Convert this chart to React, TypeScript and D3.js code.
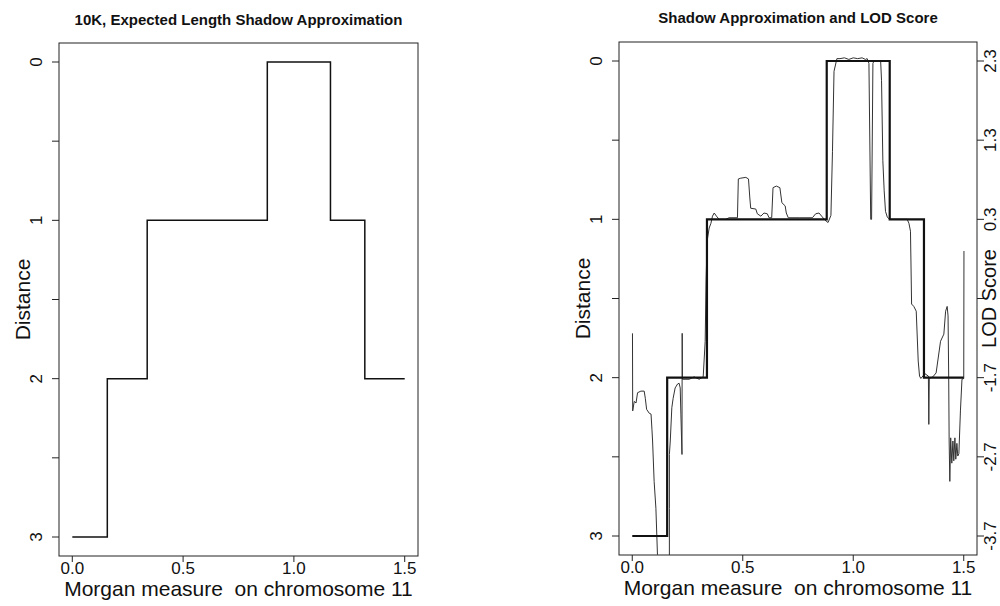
import React, { useEffect, useRef } from 'react';
import * as d3 from 'd3';

// shadow approximation: breakpoints (Morgans) and distance level from each one on
const stepX = [0, 0.158, 0.338, 0.88, 1.165, 1.32, 1.5];
const stepLevel = [3, 2, 1, 0, 1, 2, 2];

// LOD score trace (dips below -3.94 are clipped by the box)
const lodX = [
  0.001, 0.002, 0.009, 0.017, 0.024, 0.039, 0.054, 0.059, 0.065, 0.077, 0.085, 0.089, 0.092, 0.099, 0.107, 0.114,
  0.125, 0.16, 0.168, 0.168, 0.168, 0.172, 0.179, 0.185, 0.194, 0.205, 0.212, 0.217, 0.22, 0.225, 0.226, 0.227,
  0.258, 0.28, 0.303, 0.321, 0.33, 0.334, 0.339, 0.348, 0.356, 0.363, 0.371, 0.381, 0.393, 0.423, 0.438, 0.476,
  0.48, 0.491, 0.514, 0.526, 0.532, 0.536, 0.559, 0.566, 0.582, 0.596, 0.611, 0.619, 0.631, 0.637, 0.652, 0.668,
  0.677, 0.692, 0.697, 0.706, 0.755, 0.815, 0.83, 0.845, 0.857, 0.872, 0.886, 0.899, 0.906, 0.913, 0.926, 0.94,
  0.96, 0.98, 1.0, 1.02, 1.04, 1.055, 1.063, 1.071, 1.079, 1.083, 1.089, 1.094, 1.124, 1.128, 1.134, 1.14,
  1.146, 1.154, 1.164, 1.244, 1.252, 1.259, 1.264, 1.274, 1.285, 1.294, 1.3, 1.306, 1.324, 1.34, 1.342, 1.344,
  1.36, 1.375, 1.395, 1.41, 1.418, 1.425, 1.429, 1.432, 1.434, 1.437, 1.441, 1.446, 1.451, 1.455, 1.46, 1.464,
  1.469, 1.473, 1.478, 1.485, 1.492, 1.5, 1.501,
];
const lodScore = [
  -1.14, -2.12, -2.0, -2.02, -1.89, -1.87, -1.87, -1.96, -2.1, -2.15, -2.16, -2.35, -2.5, -3.01, -3.35, -3.93,
  -4.3, -4.3, -3.95, -3.35, -2.67, -2.5, -2.08, -1.96, -1.83, -1.78, -1.77, -1.83, -2.16, -2.67, -1.14, -1.72,
  -1.72, -1.69, -1.72, -1.69, -1.24, -0.48, 0.03, 0.19, 0.25, 0.34, 0.38, 0.34, 0.3, 0.3, 0.32, 0.32,
  0.81, 0.82, 0.83, 0.81, 0.57, 0.44, 0.43, 0.37, 0.34, 0.38, 0.37, 0.32, 0.32, 0.7, 0.72, 0.7,
  0.51, 0.47, 0.38, 0.32, 0.32, 0.32, 0.37, 0.38, 0.34, 0.29, 0.26, 0.35, 1.16, 2.17, 2.33, 2.33,
  2.34, 2.32, 2.34, 2.33, 2.34, 2.32, 2.33, 2.27, 0.3, 0.3, 2.27, 2.3, 2.3, 2.05, 1.04, 0.66,
  0.4, 0.33, 0.3, 0.3, 0.25, 0.15, -0.77, -0.8, -0.86, -1.49, -1.68, -1.71, -1.65, -1.68, -2.29, -1.71,
  -1.69, -1.64, -1.24, -1.15, -0.86, -0.8, -0.92, -1.71, -2.5, -3.01, -2.46, -2.78, -2.5, -2.75, -2.46, -2.73,
  -2.53, -2.69, -2.66, -2.12, -1.72, -1.71, -0.1,
];

const distanceTicks = [0, 0.5, 1, 1.5, 2, 2.5, 3];
const morganTicks = [0, 0.5, 1, 1.5];
const morganLabels = ['0.0', '0.5', '1.0', '1.5'];
const lodTicks = [2.3, 1.3, 0.3, -0.7, -1.7, -2.7, -3.7];
const lodLabels = ['2.3', '1.3', '0.3', '', '-1.7', '-2.7', '-3.7'];

const FONT = '"Liberation Sans", Arial, Helvetica, sans-serif';

const drawPanel = (svg, p) => {
  const g = svg.append('g');

  // R style 4% padding on both axes
  const x = d3.scaleLinear().domain([-0.06, 1.56]).range([p.left, p.right]);
  const y = d3.scaleLinear().domain([-0.12, 3.12]).range([p.top, p.bottom]);

  g.append('text')
    .attr('x', (p.left + p.right) / 2)
    .attr('y', p.titleY)
    .attr('text-anchor', 'middle')
    .style('font-family', FONT)
    .style('font-size', '15px')
    .style('font-weight', 'bold')
    .attr('fill', '#111')
    .text(p.title);

  g.append('rect')
    .attr('x', p.left)
    .attr('y', p.top)
    .attr('width', p.right - p.left)
    .attr('height', p.bottom - p.top)
    .attr('fill', 'none')
    .attr('stroke', '#222')
    .attr('stroke-width', 1);

  // bottom axis
  g.selectAll('.xtick')
    .data(morganTicks)
    .join('line')
    .attr('x1', d => x(d))
    .attr('x2', d => x(d))
    .attr('y1', p.bottom)
    .attr('y2', p.bottom + 6)
    .attr('stroke', '#222');

  g.selectAll('.xlab')
    .data(morganTicks)
    .join('text')
    .attr('x', d => x(d))
    .attr('y', p.bottom + 18)
    .attr('text-anchor', 'middle')
    .style('font-family', FONT)
    .style('font-size', '17px')
    .attr('fill', '#111')
    .text((d, i) => morganLabels[i]);

  g.append('text')
    .attr('x', (p.left + p.right) / 2)
    .attr('y', p.bottom + 40)
    .attr('text-anchor', 'middle')
    .style('font-family', FONT)
    .style('font-size', '21px')
    .style('white-space', 'pre')
    .attr('fill', '#111')
    .text('Morgan measure  on chromosome 11');

  // left axis, labels parallel to the axis
  g.selectAll('.ytick')
    .data(distanceTicks)
    .join('line')
    .attr('x1', p.left - 7)
    .attr('x2', p.left)
    .attr('y1', d => y(d))
    .attr('y2', d => y(d))
    .attr('stroke', '#222');

  g.selectAll('.ylab')
    .data(distanceTicks.filter(d => Number.isInteger(d)))
    .join('text')
    .attr('transform', d => `translate(${p.left - 17},${y(d)}) rotate(-90)`)
    .attr('text-anchor', 'middle')
    .style('font-family', FONT)
    .style('font-size', '17px')
    .attr('fill', '#111')
    .text(d => d);

  g.append('text')
    .attr('transform', `translate(${p.left - 29},${(p.top + p.bottom) / 2}) rotate(-90)`)
    .attr('text-anchor', 'middle')
    .style('font-family', FONT)
    .style('font-size', '21px')
    .attr('fill', '#111')
    .text('Distance');

  if (p.withLod) {
    // LOD score shares the vertical range: 2.3 at distance 0, -3.7 at distance 3
    const yLod = d3.scaleLinear().domain([2.3, -3.7]).range([y(0), y(3)]);

    g.selectAll('.rtick')
      .data(lodTicks)
      .join('line')
      .attr('x1', p.right)
      .attr('x2', p.right + 7)
      .attr('y1', d => yLod(d))
      .attr('y2', d => yLod(d))
      .attr('stroke', '#222');

    g.selectAll('.rlab')
      .data(lodTicks)
      .join('text')
      .attr('transform', d => `translate(${p.right + 19},${yLod(d)}) rotate(-90)`)
      .attr('text-anchor', 'middle')
      .style('font-family', FONT)
      .style('font-size', '17px')
      .attr('fill', '#111')
      .text((d, i) => lodLabels[i]);

    g.append('text')
      .attr('transform', `translate(${p.right + 19},${yLod(-0.7)}) rotate(-90)`)
      .attr('text-anchor', 'middle')
      .style('font-family', FONT)
      .style('font-size', '20px')
      .attr('fill', '#111')
      .text('LOD Score');

    svg.append('clipPath')
      .attr('id', 'lod-clip')
      .append('rect')
      .attr('x', p.left)
      .attr('y', p.top)
      .attr('width', p.right - p.left)
      .attr('height', p.bottom - p.top);

    const lodLine = d3.line()
      .x(d => x(d[0]))
      .y(d => yLod(d[1]));

    g.append('path')
      .attr('clip-path', 'url(#lod-clip)')
      .attr('d', lodLine(lodX.map((v, i) => [v, lodScore[i]])))
      .attr('fill', 'none')
      .attr('stroke', '#333')
      .attr('stroke-width', 1);
  }

  const stepLine = d3.line()
    .x(d => x(d[0]))
    .y(d => y(d[1]))
    .curve(d3.curveStepAfter);

  g.append('path')
    .attr('d', stepLine(stepX.map((v, i) => [v, stepLevel[i]])))
    .attr('fill', 'none')
    .attr('stroke', '#111')
    .attr('stroke-width', p.stepWidth);
};

const App = () => {
  const ref = useRef(null);

  useEffect(() => {
    const svg = d3.select(ref.current);
    svg.selectAll('*').remove();

    drawPanel(svg, {
      left: 59, right: 418, top: 43, bottom: 556, titleY: 25,
      title: '10K, Expected Length Shadow Approximation',
      stepWidth: 1.5, withLod: false,
    });
    drawPanel(svg, {
      left: 619, right: 977, top: 42, bottom: 555, titleY: 23,
      title: 'Shadow Approximation and LOD Score',
      stepWidth: 2.2, withLod: true,
    });
  }, []);

  return (
    <svg
      ref={ref}
      width={1000}
      height={606}
      style={{ position: 'absolute', left: 0, top: 0, background: '#fff' }}
    />
  );
};

export default App;
